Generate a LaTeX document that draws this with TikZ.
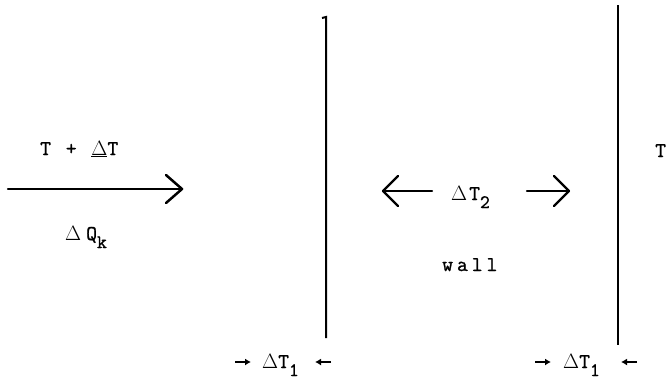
\documentclass[tikz,border=0pt]{standalone}
\usepackage[no-math]{fontspec}
\newfontfamily\tw[LetterSpace=19,FakeBold=1.2]{Latin Modern Mono}
\usetikzlibrary{arrows.meta}
\newcommand\lowr[1]{\raisebox{-8pt}{\fontsize{19}{19}\selectfont #1}}
\newcommand\dlt{\ensuremath{\Delta}}
\begin{document}
\begin{tikzpicture}[x=1pt,y=-1pt,
  lab/.style={font=\tw\fontsize{21}{24}\selectfont, inner sep=0pt, anchor=base west},
  wallline/.style={line width=2pt},
  bigarrow/.style={line width=2.5pt, line cap=round, line join=round},
  midarrow/.style={line width=2.2pt, line cap=round, line join=round},
  small/.style={line width=2pt, -{Latex[length=6pt,width=7pt]}}]
\useasboundingbox (0,0) rectangle (668,381);
% walls
\coordinate (w1t) at (326,17);
\coordinate (w1b) at (326,338);
\coordinate (w1s) at (322,18);
\coordinate (w2t) at (618,5);
\coordinate (w2b) at (618,345);
\draw[wallline] (w1s) -- (w1t) -- (w1b);
\draw[wallline] (w2t) -- (w2b);
% labels
\node[lab] (tdt) at (40,155) {T + \underline{\dlt}T};
\node[lab] (dq) at (65,240) {\dlt\hspace{5pt}Q\lowr{k}};
\node[lab] (tr) at (655,157) {T};
\node[lab] (wall) at (442,271) {wall};
\node[lab] (dt2) at (451,200) {\dlt\hspace{2pt}T\lowr{2}};
\node[lab] (dt1a) at (262,368) {\dlt T\lowr{1}};
\node[lab] (dt1b) at (563,368) {\dlt T\lowr{1}};
% main arrow
\coordinate (ma) at (8,189);
\coordinate (mb) at (182,189);
\draw[bigarrow] (ma) -- (mb);
\draw[bigarrow] ([shift={(-16,-14)}]mb) -- (mb) -- ([shift={(-16,14)}]mb);
% middle arrows
\coordinate (la) at (432,191);
\coordinate (lb) at (383,191);
\coordinate (ra) at (527,191);
\coordinate (rb) at (569,191);
\draw[midarrow] (la) -- (lb);
\draw[midarrow] ([shift={(15,-15)}]lb) -- (lb) -- ([shift={(15,15)}]lb);
\draw[midarrow] (ra) -- (rb);
\draw[midarrow] ([shift={(-15,-15)}]rb) -- (rb) -- ([shift={(-15,15)}]rb);
% bottom small arrows
\coordinate (s1a) at (235,362); \coordinate (s1b) at (251,362);
\coordinate (s2a) at (331,362); \coordinate (s2b) at (315,362);
\coordinate (s3a) at (535,362); \coordinate (s3b) at (551,362);
\coordinate (s4a) at (637,362); \coordinate (s4b) at (621,362);
\draw[small] (s1a) -- (s1b);
\draw[small] (s2a) -- (s2b);
\draw[small] (s3a) -- (s3b);
\draw[small] (s4a) -- (s4b);
\end{tikzpicture}
\end{document}
